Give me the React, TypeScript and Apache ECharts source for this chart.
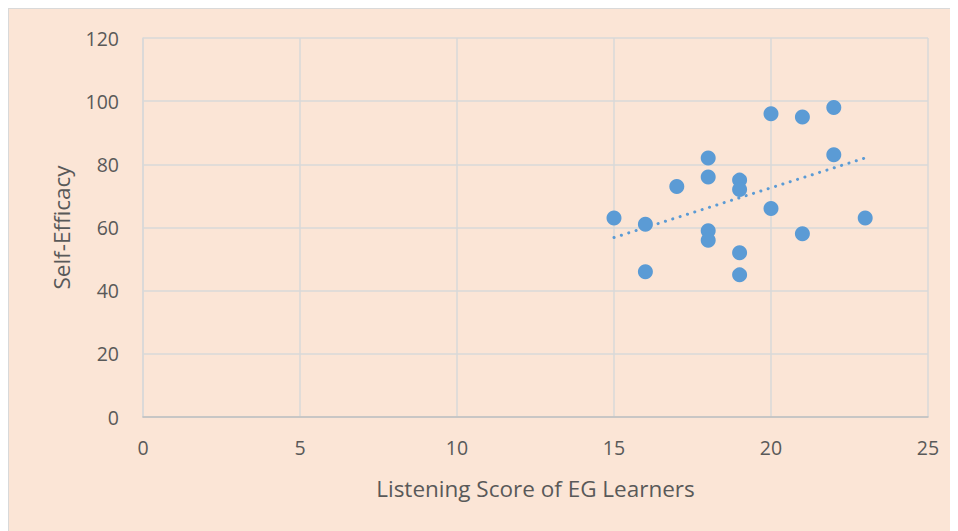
import React, { useEffect, useRef } from "react";
import * as echarts from "echarts";

const listeningScores = [15, 16, 16, 17, 18, 18, 18, 18, 19, 19, 19, 19, 20, 20, 21, 21, 22, 22, 23];
const selfEfficacy = [63, 61, 46, 73, 82, 76, 59, 56, 75, 72, 52, 45, 96, 66, 95, 58, 98, 83, 63];
const xTicks = [0, 5, 10, 15, 20, 25];
const yTicks = [0, 20, 40, 60, 80, 100, 120];

function linearFit(xs: number[], ys: number[]) {
  const n = xs.length;
  const mx = xs.reduce((a, b) => a + b, 0) / n;
  const my = ys.reduce((a, b) => a + b, 0) / n;
  let sxy = 0, sxx = 0;
  for (let i = 0; i < n; i++) {
    sxy += (xs[i] - mx) * (ys[i] - my);
    sxx += (xs[i] - mx) * (xs[i] - mx);
  }
  const slope = sxy / sxx;
  return { slope, intercept: my - slope * mx };
}

export default function App() {
  const ref = useRef<HTMLDivElement>(null);
  useEffect(() => {
    if (!ref.current) return;
    const chart = echarts.init(ref.current, null, { renderer: "svg" });
    const fit = linearFit(listeningScores, selfEfficacy);
    const xmin = Math.min(...listeningScores);
    const xmax = Math.max(...listeningScores);
    const font = "'Open Sans', 'Noto Sans', sans-serif";
    chart.setOption({
      animation: false,
      backgroundColor: "#FBE5D6",
      grid: { left: 134, top: 29, right: 41, bottom: 122 },
      xAxis: {
        type: "value",
        min: xTicks[0],
        max: xTicks[xTicks.length - 1],
        interval: 5,
        name: "Listening Score of EG Learners",
        nameLocation: "middle",
        nameGap: 60,
        nameTextStyle: { fontSize: 22.5, color: "#595959", fontFamily: font },
        axisLine: { show: true, lineStyle: { color: "#BFBFBF", width: 1.5 } },
        axisTick: { show: false },
        axisLabel: { fontSize: 19.5, color: "#595959", fontFamily: font, margin: 20 },
        splitLine: { show: true, lineStyle: { color: "#D9D9D9", width: 1.5 } },
      },
      yAxis: {
        type: "value",
        min: yTicks[0],
        max: yTicks[yTicks.length - 1],
        interval: 20,
        name: "Self-Efficacy",
        nameLocation: "middle",
        nameGap: 70,
        nameTextStyle: { fontSize: 22.5, color: "#595959", fontFamily: font },
        axisLine: { show: true, lineStyle: { color: "#D9D9D9", width: 1.5 } },
        axisTick: { show: false },
        axisLabel: { fontSize: 19.5, color: "#595959", fontFamily: font, margin: 24 },
        splitLine: { show: true, lineStyle: { color: "#D9D9D9", width: 1.5 } },
      },
      series: [
        {
          type: "scatter",
          data: listeningScores.map((x, i) => [x, selfEfficacy[i]]),
          symbolSize: 15,
          itemStyle: { color: "#5B9BD5", opacity: 1 },
          z: 3,
        },
        {
          type: "line",
          data: [
            [xmin, fit.intercept + fit.slope * xmin],
            [xmax, fit.intercept + fit.slope * xmax],
          ],
          symbol: "none",
          lineStyle: { color: "#5B9BD5", width: 3, type: [0.1, 7.6], cap: "round" },
          z: 2,
        },
      ],
    });
    return () => chart.dispose();
  }, []);
  return (
    <div
      style={{
        width: 960,
        height: 530,
        border: "1px solid #D9D9D9",
        boxSizing: "content-box",
      }}
    >
      <div ref={ref} style={{ width: 960, height: 530 }} />
    </div>
  );
}
